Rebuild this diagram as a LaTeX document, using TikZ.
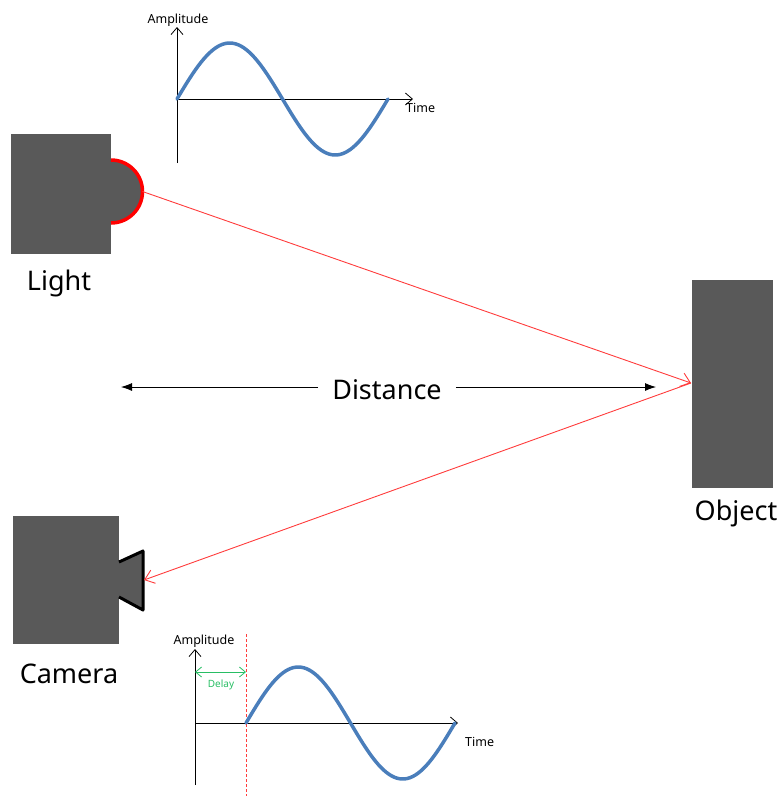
\documentclass[tikz,border=0pt]{standalone}
\usepackage{fontspec}
\setmainfont{Noto Sans}
\usetikzlibrary{arrows.meta}
\definecolor{boxgray}{RGB}{89,89,89}
\definecolor{waveblue}{RGB}{74,126,187}
\definecolor{beamred}{RGB}{255,60,60}
\definecolor{delaygreen}{RGB}{40,190,100}
\tikzset{
  box/.style={fill=boxgray, draw=none, inner sep=0pt},
  label/.style={font=\fontsize{27}{30}\selectfont, inner sep=0pt, anchor=base},
  small/.style={font=\fontsize{12.5}{14}\selectfont, inner sep=0pt},
  axis/.style={line width=0.8pt, -{Straight Barb[length=7pt,width=12pt]}},
  wave/.style={waveblue, line width=3.5pt, line cap=round},
  beam/.style={beamred, line width=0.9pt, -{Straight Barb[length=9pt,width=14pt]}},
}
\begin{document}
\begin{tikzpicture}[x=1pt, y=-1pt, line join=round]
			\useasboundingbox (0,0) rectangle (784,796);
			% boxes
			\node[box, minimum width=100pt, minimum height=120pt] (light) at (61,194) {};
			\node[box, minimum width=81pt, minimum height=208pt] (object) at (732.5,384) {};
			\node[box, minimum width=106pt, minimum height=128pt] (camera) at (66,580) {};
			\fill[boxgray] (111,160) arc[start angle=-90, end angle=90, radius=31.5];
			\draw[red, line width=3.5pt] (111,160) arc[start angle=-90, end angle=90, radius=31.5];
			\draw[line width=3pt, fill=boxgray] (119,562) -- (143,551) -- (143,610) -- (119,597);
			\coordinate (lamp) at (142.5,191.5);
			\coordinate (hit) at (691,383);
			\coordinate (lens) at (144,580);
			\node[label] (lighttext) at (59,290) {Light};
			\node[label] (objecttext) at (736,520) {Object};
			\node[label] (cameratext) at (69,683) {Camera};
			% beams
			\draw[beam] (lamp) -- (hit);
			\draw[beam] (hit) -- (lens);
			% distance
			\node[label] (dist) at (387,399) {Distance};
			\coordinate (dl) at (121,387);
			\coordinate (dr) at (656,387);
			\draw[line width=0.8pt, -{Latex[length=11pt,width=8pt]}] (dist.west |- dl) ++(-14,0) -- (dl);
			\draw[line width=0.8pt, -{Latex[length=11pt,width=8pt]}] (dist.east |- dr) ++(14,0) -- (dr);
			% emitted wave
			\coordinate (o1) at (177,99);
			\draw[axis] (177,163) -- (177,27) coordinate (y1);
			\draw[axis] (o1) -- (413,99) coordinate (x1);
			\draw[wave] plot[domain=0:211, samples=80] ({177+\x}, {99-56*sin(\x/211*360)});
			\node[small, anchor=base] (amp1) at (178,23) {Amplitude};
			\node[small, anchor=base west] (time1) at (406,112) {Time};
			% received wave
			\coordinate (o2) at (195,723);
			\draw[axis] (195,785) -- (195,649) coordinate (y2);
			\draw[axis] (o2) -- (458,723) coordinate (x2);
			\draw[beamred, line width=0.8pt, densely dashed] (246,634) -- (246,796);
			\draw[wave] plot[domain=0:209, samples=80] ({246+\x}, {723-56*sin(\x/209*360)});
			\coordinate (d1) at (195,672);
			\coordinate (d2) at (246,672);
			\draw[delaygreen, line width=0.8pt, {Straight Barb[length=6pt,width=10pt]}-{Straight Barb[length=6pt,width=10pt]}] (d1) -- (d2);
			\node[small, font=\fontsize{10}{12}\selectfont, text=delaygreen, anchor=base] (delay) at (221,687) {Delay};
			\node[small, anchor=base] (amp2) at (204,644) {Amplitude};
			\node[small, anchor=base west] (time2) at (465,746) {Time};
		\end{tikzpicture}
\end{document}
